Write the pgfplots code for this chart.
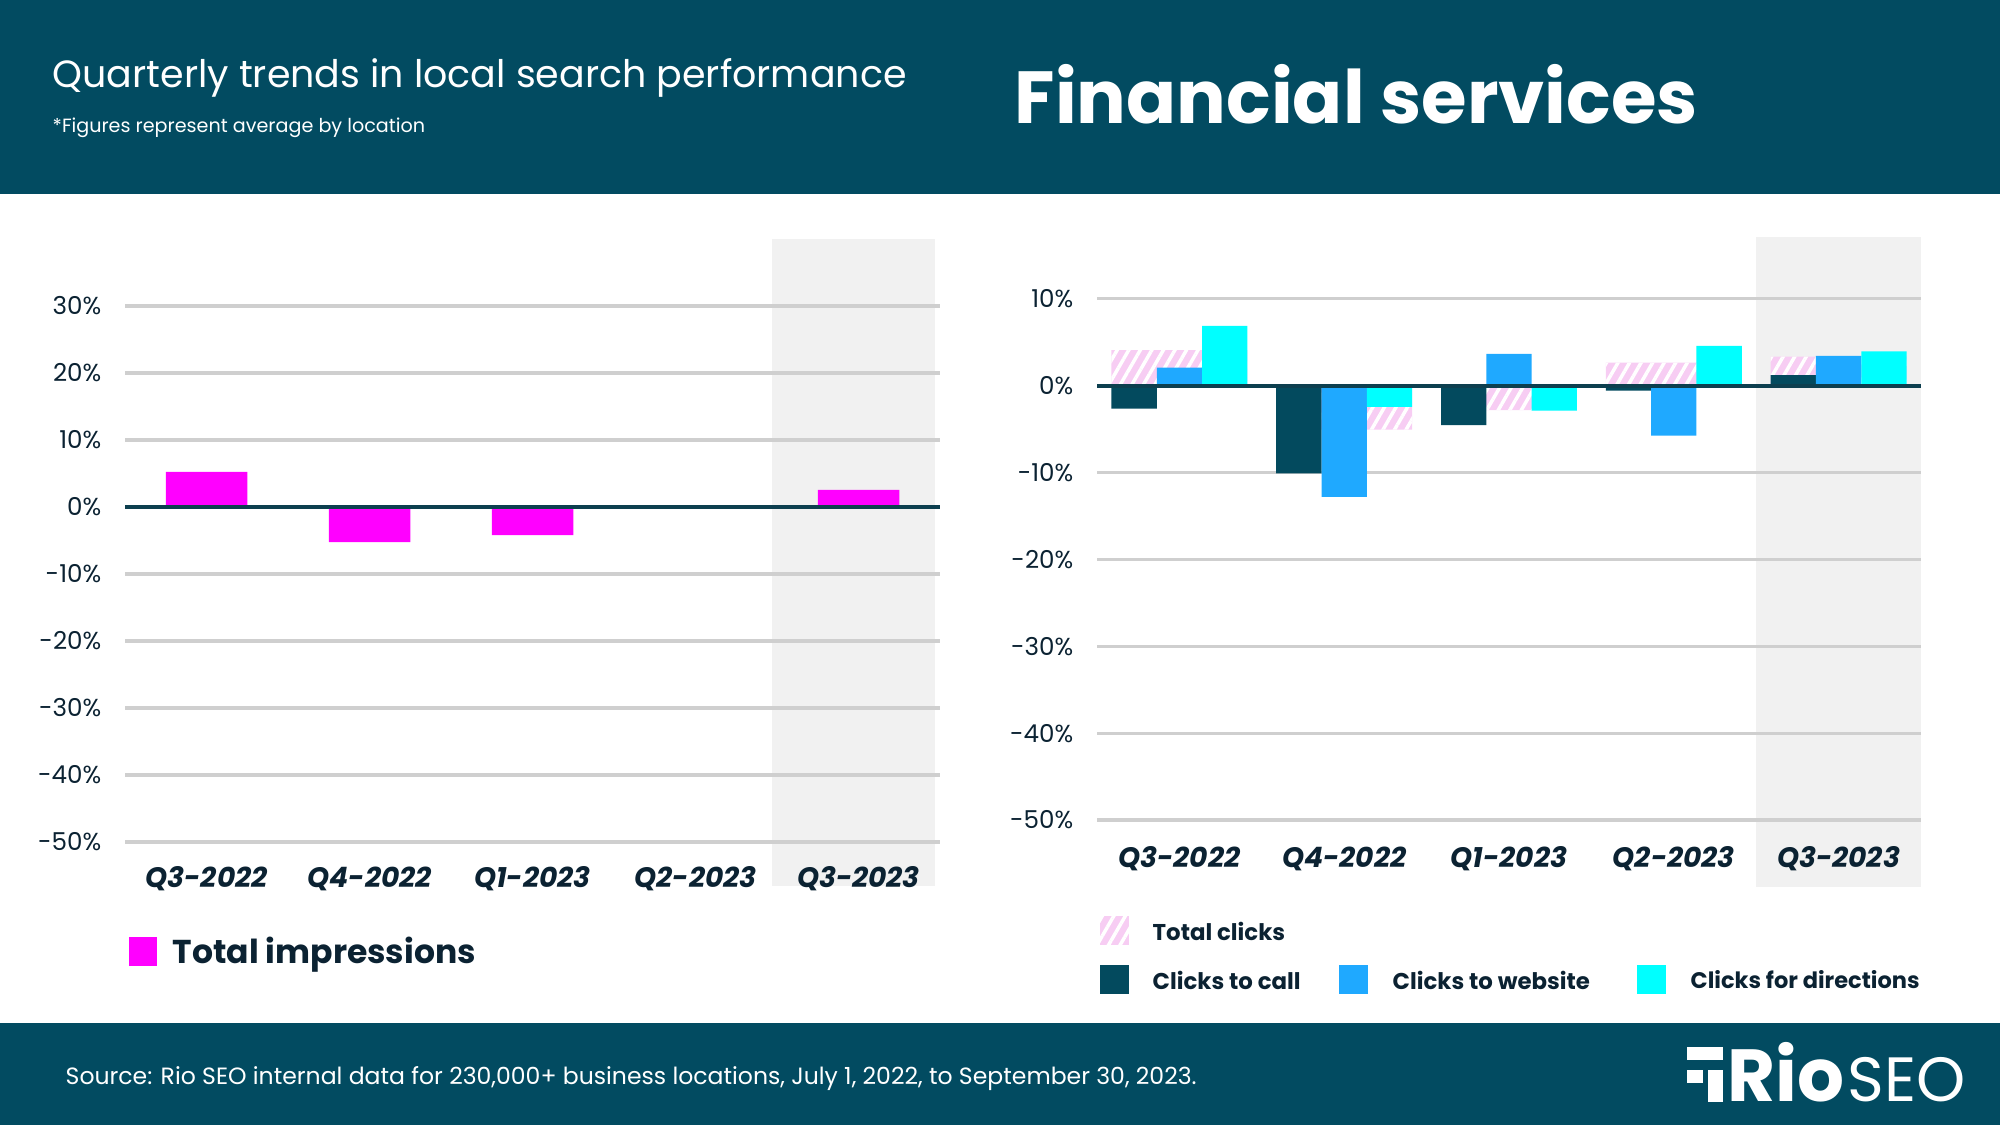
\documentclass[border=0pt]{standalone}
\usepackage{fontspec}
\setmainfont{Poppins}
\usepackage{pgfplots}
\pgfplotsset{compat=1.18}
\usetikzlibrary{patterns.meta}
\definecolor{hdr}{HTML}{024B61}
\definecolor{txt}{HTML}{0B2232}
\definecolor{callc}{HTML}{034A5E}
\definecolor{webc}{HTML}{1FA9FF}
\definecolor{dirc}{HTML}{00FFFF}
\definecolor{magc}{HTML}{FF00FF}
\definecolor{pinkc}{HTML}{F7CDF3}
\definecolor{shadec}{HTML}{F1F1F1}
\definecolor{gridc}{HTML}{CFCFCF}
\definecolor{zeroc}{HTML}{0D3F4F}
\tikzset{hatchpink/.style={fill=pinkc, postaction={pattern={Lines[angle=60,distance=0.1cm,line width=0.035cm]}, pattern color=white}}}
\pgfplotsset{
  common/.style={
    anchor=south west, scale only axis, xmin=-0.5, xmax=4.5, ymin=-50,
    clip=false, set layers=standard,
    axis line style={draw=none}, tick style={draw=none},
    ymajorgrids, grid style={gridc, line width=0.9pt},
    /pgf/number format/assume math mode=true,
    xtick={0,1,2,3,4},
    xticklabels={Q3-2022,Q4-2022,Q1-2023,Q2-2023,Q3-2023},
    xticklabel style={font=\fontsize{8}{9}\selectfont\bfseries\itshape, text=txt, anchor=center, inner sep=0pt},
    yticklabel style={font=\fontsize{7}{8}\selectfont, text=txt, anchor=east, inner sep=0pt, xshift=-0.23cm},
  }
}
\begin{document}
\begin{tikzpicture}
\path (0,0) rectangle (20,11.25);
\fill[hdr] (0,9.31) rectangle (20,11.25);
\fill[hdr] (0,0) rectangle (20,1.02);
\node[anchor=west, text=white, inner sep=0pt, font=\fontsize{10.8}{12}\selectfont] at (0.52,10.47) {Quarterly trends in local search performance};
\node[anchor=west, text=white, inner sep=0pt, font=\fontsize{5.45}{7}\selectfont] at (0.52,9.975) {*Figures represent average by location};
\node[anchor=west, text=white, inner sep=0pt, font=\fontsize{21}{24}\selectfont\bfseries] at (10.14,10.31) {Financial services};
\node[anchor=west, text=white, inner sep=0pt, font=\fontsize{6.7}{8}\selectfont] at (0.65,0.46) {Source: Rio SEO internal data for 230,000+ business locations, July 1, 2022, to September 30, 2023.};
% logo
\fill[white] (16.87,0.783) rectangle (17.23,0.65);
\fill[white] (16.87,0.55) rectangle (17.03,0.42);
\fill[white] (17.08,0.55) rectangle (17.23,0.233);
\node[anchor=base west, text=white, inner sep=0pt, font=\fontsize{21}{22}\selectfont\bfseries] at (17.27,0.235) {Rio};
\node[anchor=base west, text=white, inner sep=0pt, font=\fontsize{17.8}{18}\selectfont] at (18.47,0.235) {SEO};
% left legend
\fill[magc] (1.29,1.59) rectangle (1.57,1.88);
\node[anchor=west, text=txt, inner sep=0pt, font=\fontsize{9.4}{11}\selectfont\bfseries] at (1.72,1.70) {Total impressions};
% right legend
\path[hatchpink] (11.0,1.80) rectangle (11.29,2.09);
\node[anchor=west, text=txt, inner sep=0pt, font=\fontsize{6.5}{8}\selectfont\bfseries] at (11.52,1.94) {Total clicks};
\fill[callc] (11.0,1.31) rectangle (11.29,1.60);
\node[anchor=west, text=txt, inner sep=0pt, font=\fontsize{6.5}{8}\selectfont\bfseries] at (11.52,1.45) {Clicks to call};
\fill[webc] (13.39,1.31) rectangle (13.68,1.60);
\node[anchor=west, text=txt, inner sep=0pt, font=\fontsize{6.5}{8}\selectfont\bfseries] at (13.92,1.45) {Clicks to website};
\fill[dirc] (16.37,1.31) rectangle (16.66,1.60);
\node[anchor=west, text=txt, inner sep=0pt, font=\fontsize{6.4}{8}\selectfont\bfseries] at (16.90,1.45) {Clicks for directions};

\begin{axis}[common, at={(1.25cm,2.83cm)}, width=8.15cm, height=6.03cm, ymax=40,
  ytick={-50,-40,-30,-20,-10,0,10,20,30},
  yticklabels={-50\%,-40\%,-30\%,-20\%,-10\%,0\%,10\%,20\%,30\%},
  xticklabel style={yshift=-0.365cm}]
\begin{pgfonlayer}{axis background}
\fill[shadec] (axis cs:3.47,40) rectangle (axis cs:4.47,-56.6);
\end{pgfonlayer}
\addplot[ybar, bar width=0.5, bar shift=0, fill=magc, draw=none] coordinates {(0,5.25) (1,-5.25) (2,-4.2) (3,0) (4,2.55)};
\addplot[zeroc, line width=1.1pt] coordinates {(-0.5,0) (4.5,0)};
\end{axis}

\begin{axis}[common, at={(10.97cm,3.05cm)}, width=8.24cm, height=5.82cm, ymax=17,
  ytick={-50,-40,-30,-20,-10,0,10},
  yticklabels={-50\%,-40\%,-30\%,-20\%,-10\%,0\%,10\%},
  xticklabel style={yshift=-0.385cm}]
\begin{pgfonlayer}{axis background}
\fill[shadec] (axis cs:3.5,17.1) rectangle (axis cs:4.5,-57.7);
\end{pgfonlayer}
\addplot[ybar, bar width=0.825, bar shift=0, hatchpink, draw=none] coordinates {(0,4.1) (1,-5.07) (2,-2.8) (3,2.65) (4,3.34)};
\addplot[ybar, bar width=0.275, bar shift=-0.275, fill=callc, draw=none] coordinates {(0,-2.65) (1,-10.1) (2,-4.53) (3,-0.58) (4,1.23)};
\addplot[ybar, bar width=0.275, bar shift=0, fill=webc, draw=none] coordinates {(0,2.07) (1,-12.8) (2,3.65) (3,-5.76) (4,3.42)};
\addplot[ybar, bar width=0.275, bar shift=0.275, fill=dirc, draw=none] coordinates {(0,6.9) (1,-2.45) (2,-2.88) (3,4.57) (4,3.95)};
\addplot[zeroc, line width=1.1pt] coordinates {(-0.5,0) (4.5,0)};
\end{axis}
\end{tikzpicture}
\end{document}
